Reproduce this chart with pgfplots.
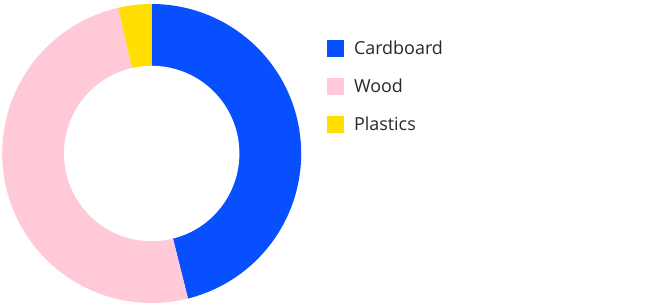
\documentclass[border=0pt]{standalone}
\usepackage{pgfplots}
\pgfplotsset{compat=1.18}
\usepackage{pgfplotstable}
\usepackage{fontspec}
\setmainfont{Open Sans}
\definecolor{cCard}{RGB}{7,79,255}
\definecolor{cWood}{RGB}{255,201,215}
\definecolor{cPlast}{RGB}{255,222,0}
\definecolor{cText}{RGB}{40,40,40}
% share of each material, percent
\pgfplotstableread{
material value
Cardboard 46.1
Wood 50.3
Plastics 3.6
}\shares
\pgfplotstablegetelem{0}{value}\of\shares \let\vA\pgfplotsretval
\pgfplotstablegetelem{1}{value}\of\shares \let\vB\pgfplotsretval
\pgfplotstablegetelem{2}{value}\of\shares \let\vC\pgfplotsretval
\pgfmathsetmacro\aA{90}
\pgfmathsetmacro\aB{90-3.6*\vA}
\pgfmathsetmacro\aC{\aB-3.6*\vB}
\pgfmathsetmacro\aD{\aC-3.6*\vC}
\def\cx{151.7}\def\cy{150.5}\def\Ro{149.5}\def\Ri{87.7}
\begin{document}
\begin{tikzpicture}
\begin{axis}[
  scale only axis, width=656bp, height=304bp,
  xmin=0, xmax=656, ymin=0, ymax=304,
  hide axis, clip=false,
  legend style={at={(axis cs:327,264)}, anchor=north west, draw=none, fill=none,
    inner sep=0pt, row sep=21.4bp, column sep=10bp,
    font=\fontsize{18}{20}\selectfont\color{cText},
    nodes={inner sep=0pt, anchor=west}},
  legend image code/.code={\fill[#1] (0bp,-8.3bp) rectangle (16.8bp,8.3bp);},
  legend cell align=left,
]
\path (rel axis cs:0,0) rectangle (rel axis cs:1,1);
\addplot[fill=cCard, draw=none, domain=\aB:\aA, samples=120]
  ({\cx+\Ro*cos(x)},{\cy+\Ro*sin(x)}) -- (axis cs:\cx,\cy) -- cycle;
\addlegendentry{Cardboard}
\addplot[fill=cWood, draw=none, domain=\aC:\aB, samples=120]
  ({\cx+\Ro*cos(x)},{\cy+\Ro*sin(x)}) -- (axis cs:\cx,\cy) -- cycle;
\addlegendentry{Wood}
\addplot[fill=cPlast, draw=none, domain=\aD:\aC, samples=20]
  ({\cx+\Ro*cos(x)},{\cy+\Ro*sin(x)}) -- (axis cs:\cx,\cy) -- cycle;
\addlegendentry{Plastics}
\addplot[fill=white, draw=none, domain=0:360, samples=150, forget plot]
  ({\cx+\Ri*cos(x)},{\cy+\Ri*sin(x)}) -- cycle;
\end{axis}
\end{tikzpicture}
\end{document}
